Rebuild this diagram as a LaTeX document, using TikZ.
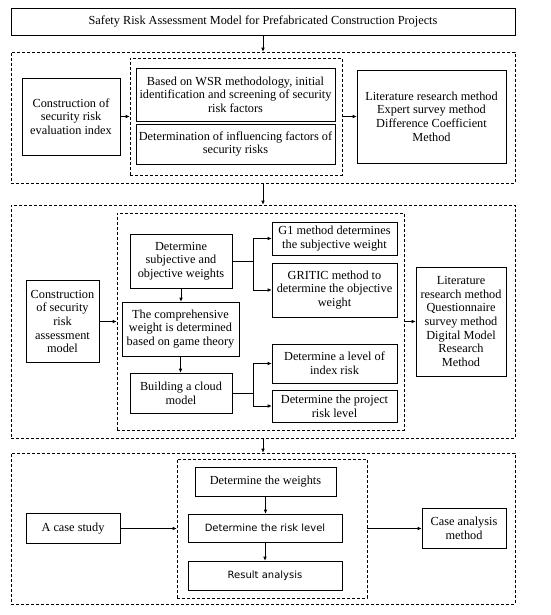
\documentclass[tikz,border=0pt]{standalone}
\usepackage{fontspec}
\setmainfont{Liberation Serif}
\newfontfamily\boxsans{DejaVu Sans}
\usetikzlibrary{positioning}
\usetikzlibrary{arrows.meta}

\tikzset{
  blk/.style={draw,line width=0.6pt,align=center,inner sep=1pt,font=\fontsize{12.3}{13.7}\selectfont},
  sansblk/.style={blk,font=\boxsans\fontsize{10}{12}\selectfont},
  grp/.style={draw,dash pattern=on 3pt off 2pt,line width=0.6pt},
  flow/.style={-{Latex[length=4pt,width=3.5pt]},line width=0.6pt}
}

\begin{document}
\begin{tikzpicture}[x=1pt,y=-1pt]
\useasboundingbox (0,0) rectangle (550,615);

\node[blk,minimum width=504pt,minimum height=27pt] (title) at (263,21.5) {Safety Risk Assessment Model for Prefabricated Construction Projects};

% stage 1
\node[grp,minimum width=504pt,minimum height=131pt] (stageA) at (263,117.5) {};
\node[grp,minimum width=212pt,minimum height=117pt] (innerA) at (236,116.5) {};
\node[blk,minimum width=98pt,minimum height=77pt] (indexA) at (71,116.5) {Construction of\\security risk\\evaluation index};
\node[blk,minimum width=199pt,minimum height=53pt] (wsr) at (235.5,94.5) {Based on WSR methodology, initial\\identification and screening of security\\risk factors};
\node[blk,minimum width=199pt,minimum height=40pt] (factors) at (235.5,144) {Determination of influencing factors of\\security risks};
\node[blk,minimum width=149pt,minimum height=93pt] (methodA) at (431.5,116.5) {Literature research method\\Expert survey method\\Difference Coefficient\\Method};

% stage 2
\node[grp,minimum width=504pt,minimum height=233pt] (stageB) at (263,321.5) {};
\node[grp,minimum width=287pt,minimum height=217pt] (innerB) at (260.5,321.5) {};
\node[blk,minimum width=73pt,minimum height=82pt] (modelB) at (62.5,321.5) {Construction\\of security\\risk\\assessment\\model};
\node[blk,minimum width=102pt,minimum height=54pt] (subj) at (181,261) {Determine\\subjective and\\objective weights};
\node[blk,minimum width=117pt,minimum height=54pt] (comp) at (180.5,329) {The comprehensive\\weight is determined\\based on game theory};
\node[blk,minimum width=102pt,minimum height=40pt] (cloud) at (181,393) {Building a cloud\\model};
\node[blk,minimum width=125pt,minimum height=33pt] (gone) at (334.5,238.5) {G1 method determines\\the subjective weight};
\node[blk,minimum width=125pt,minimum height=54pt] (gritic) at (334.5,290) {GRITIC method to\\determine the objective\\weight};
\node[blk,minimum width=125pt,minimum height=39pt] (idxlvl) at (334.5,363.5) {Determine a level of\\index risk};
\node[blk,minimum width=125pt,minimum height=32pt] (projlvl) at (334.5,406) {Determine the project\\risk level};
\node[blk,minimum width=90pt,minimum height=109pt] (methodB) at (461,321.5) {Literature\\research method\\Questionnaire\\survey method\\Digital Model\\Research\\Method};
\coordinate (forkW) at (253,261);
\coordinate (forkC) at (253,393);

% stage 3
\node[grp,minimum width=504pt,minimum height=151pt] (stageC) at (263,528.5) {};
\node[grp,minimum width=190pt,minimum height=139pt] (innerC) at (272,528.5) {};
\node[blk,minimum width=94pt,minimum height=30pt] (casestudy) at (73,528.5) {A case study};
\node[blk,minimum width=141pt,minimum height=29pt] (weights) at (265.5,481.5) {Determine the weights};
\node[sansblk,minimum width=154pt,minimum height=28pt] (risklvl) at (265,528) {Determine the risk level};
\node[sansblk,minimum width=154pt,minimum height=29pt] (result) at (265,575.5) {Result analysis};
\node[blk,minimum width=84pt,minimum height=40pt] (methodC) at (464,528.5) {Case analysis\\method};

\draw[flow] (title) -- (stageA);
\draw[flow] (stageA) -- (stageB);
\draw[flow] (stageB) -- (stageC);

\draw[flow] (indexA.east) -- (indexA.east -| innerA.west);
\draw[flow] (innerA.east) -- (innerA.east -| methodA.west);

\draw[flow] (modelB.east) -- (modelB.east -| innerB.west);
\draw[flow] (innerB.east) -- (innerB.east -| methodB.west);
\draw[flow] (subj) -- (subj |- comp.north);
\draw[flow] (comp) -- (comp |- cloud.north);
\draw[line width=0.6pt] (subj.east) -- (forkW);
\draw[flow] (forkW) |- (gone.west);
\draw[flow] (forkW) |- (gritic.west);
\draw[line width=0.6pt] (cloud.east) -- (forkC);
\draw[flow] (forkC) |- (idxlvl.west);
\draw[flow] (forkC) |- (projlvl.west);

\draw[flow] (casestudy.east) -- (casestudy.east -| innerC.west);
\draw[flow] (innerC.east) -- (innerC.east -| methodC.west);
\draw[flow] (weights) -- (weights |- risklvl.north);
\draw[flow] (risklvl) -- (risklvl |- result.north);

\end{tikzpicture}
\end{document}
